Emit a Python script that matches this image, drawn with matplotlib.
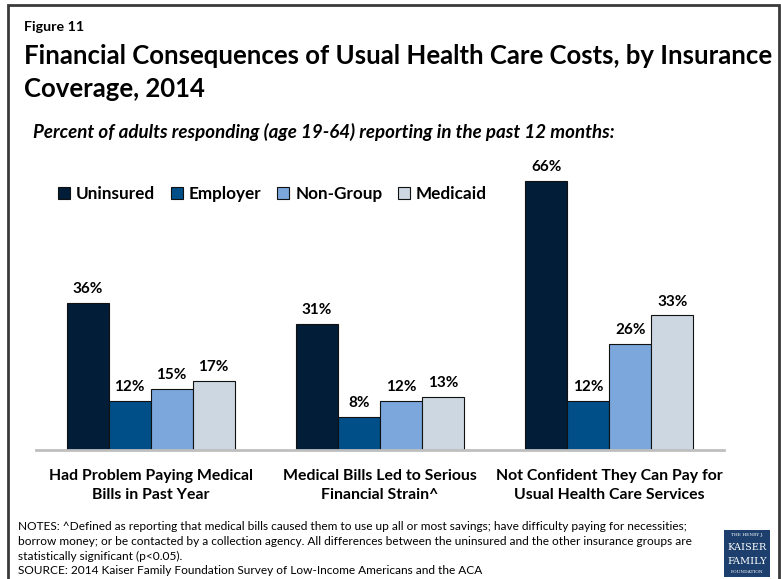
import matplotlib
matplotlib.use("Agg")
import matplotlib.pyplot as plt
from matplotlib.patches import Rectangle
import numpy as np

categories = [
    "Had Problem Paying Medical\nBills in Past Year",
    "Medical Bills Led to Serious\nFinancial Strain^",
    "Not Confident They Can Pay for\nUsual Health Care Services",
]
series_names = ["Uninsured", "Employer", "Non-Group", "Medicaid"]
uninsured = [36, 31, 66]
employer = [12, 8, 12]
non_group = [15, 12, 26]
medicaid = [17, 13, 33]
colors = ["#021d38", "#004f88", "#7ba7dc", "#cdd7e1"]

plt.rcParams["font.family"] = ["Lato", "DejaVu Sans"]

W, H = 781, 579
fig = plt.figure(figsize=(W / 100, H / 100), dpi=100)

def fx(px):
    return px / W

def fy(py):
    return 1 - py / H

# outer frame
fig.add_artist(Rectangle((fx(8), fy(590)), fx(771), 585 / H, transform=fig.transFigure,
                         fill=False, edgecolor="#3a3a3a", linewidth=2))

fig.text(fx(24), fy(27), "Figure 11", fontsize=10.3, fontweight="bold", va="center", ha="left")
fig.text(fx(24), fy(56), "Financial Consequences of Usual Health Care Costs, by Insurance",
         fontsize=18.5, fontweight="bold", va="center", ha="left")
fig.text(fx(24), fy(89), "Coverage, 2014", fontsize=18.5, fontweight="bold", va="center", ha="left")
fig.text(fx(33), fy(132),
         "Percent of adults responding (age 19-64) reporting in the past 12 months:",
         fontsize=13.5, fontweight="bold", style="italic", va="center", ha="left")

# plotting area
ymax = 70
base_px = 450
px_per_unit = 4.076
top_px = base_px - ymax * px_per_unit
ax_w = fx(724) - fx(36)
ax = fig.add_axes([fx(36), fy(base_px), ax_w, (base_px - top_px) / H])
ax.set_xlim(-0.5, 2.5)
ax.set_ylim(0, ymax)

x = np.arange(len(categories))
bw = 0.183
all_series = [uninsured, employer, non_group, medicaid]
for i, (vals, name, c) in enumerate(zip(all_series, series_names, colors)):
    pos = x + (i - 1.5) * bw
    bars = ax.bar(pos, vals, width=bw, color=c, edgecolor="#111111", linewidth=0.8,
                  label=name, zorder=2)
    for b, v in zip(bars, vals):
        ax.annotate(f"{v}%", (b.get_x() + b.get_width() / 2, v), xytext=(0, 5),
                    textcoords="offset points", ha="center", va="bottom",
                    fontsize=11, fontweight="bold")

for s in ["top", "right", "left"]:
    ax.spines[s].set_visible(False)
ax.spines["bottom"].set_color("#bfbfbf")
ax.spines["bottom"].set_linewidth(2)
ax.set_yticks([])
ax.set_xticks(x)
ax.set_xticklabels(categories, fontsize=11.4, fontweight="bold", linespacing=1.4)
ax.tick_params(axis="x", length=0, pad=14)

leg = ax.legend(loc="center left",
                bbox_to_anchor=((fx(51) - fx(36)) / ax_w, (base_px - 194) / (base_px - top_px)),
                ncol=4, frameon=False, prop={"weight": "bold", "size": 12.3},
                handlelength=0.72, handleheight=0.72, handletextpad=0.35,
                columnspacing=0.9, borderaxespad=0)

notes = ("NOTES: ^Defined as reporting that medical bills caused them to use up all or most savings; have difficulty paying for necessities;\n"
         "borrow money; or be contacted by a collection agency. All differences between the uninsured and the other insurance groups are\n"
         "statistically significant (p<0.05).\n"
         "SOURCE: 2014 Kaiser Family Foundation Survey of Low-Income Americans and the ACA")
fig.text(fx(18), fy(521), notes, fontsize=8.6, va="top", ha="left", linespacing=1.42)

# foundation logo
fig.add_artist(Rectangle((fx(724), fy(577)), fx(46), 47 / H, transform=fig.transFigure,
                         facecolor="#1c3f6e", edgecolor="none"))
fig.text(fx(747), fy(535), "THE HENRY J.", fontsize=3.2, color="white", ha="center", va="center", family="DejaVu Serif")
fig.text(fx(747), fy(548), "KAISER", fontsize=7, color="white", ha="center", va="center", family="DejaVu Serif")
fig.text(fx(747), fy(561), "FAMILY", fontsize=7, color="white", ha="center", va="center", family="DejaVu Serif")
fig.text(fx(747), fy(572), "FOUNDATION", fontsize=3.2, color="white", ha="center", va="center", family="DejaVu Serif")

fig.savefig("out.png", dpi=100)
